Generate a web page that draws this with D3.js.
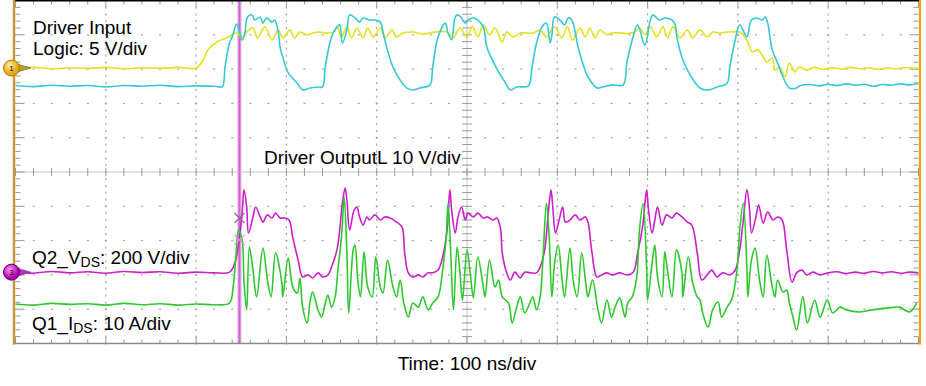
<!DOCTYPE html>
<html>
<head>
<meta charset="utf-8">
<script src="https://cdn.jsdelivr.net/npm/d3@7"></script>
<style>
  body { margin: 0; background: #fff; }
  text { font-family: "Liberation Sans", Arial, sans-serif; fill: #000; }
</style>
</head>
<body>
<div id="scope"></div>
<script>
// time in ns (100 ns/div), amplitude in screen divisions from the bottom of the graticule
const frame_width = 926;
const frame_height = 386;
const plot = {left: 15.5, right: 918.5, top: 0.5, bottom: 343.5};

// Driver Input (logic, 5 V/div)
const ch1 = [[0,8.03],[20,8.05],[40,8.01],[60,8.04],[80,8.02],[100,8.05],[120,8.01],[140,8.04],[160,8.02],[180,8.05],[200,8.03],
  [208,8.27],[213,8.56],[223,8.79],[234,8.91],[245,9.05],[251,8.91],[256,9.08],[263,9.20],[268,8.91],[276,9.23],[284,8.85],
  [291,9.14],[296,8.91],[304,9.14],[309,8.91],[315,9.08],[323,9.00],[329,9.05],[337,9.08],[345,9.05],[352,9.08],[356,9.23],
  [361,8.94],[367,9.23],[372,8.91],[378,9.20],[385,8.91],[390,9.20],[396,8.94],[404,9.20],[409,8.91],[417,9.14],[422,8.94],
  [429,9.05],[440,9.08],[451,9.02],[462,9.07],[478,9.08],[485,8.91],[492,9.20],[500,8.94],[506,9.23],[512,8.94],[518,9.29],
  [525,9.00],[531,9.20],[539,8.79],[544,9.08],[551,8.94],[559,9.05],[573,9.05],[581,9.14],[588,8.94],[597,9.23],[605,8.91],
  [611,9.23],[617,8.85],[625,9.20],[631,8.94],[636,9.20],[642,8.91],[647,9.14],[655,9.00],[661,9.05],[669,9.06],[677,9.04],
  [686,9.08],[691,9.20],[697,9.00],[703,9.23],[710,8.94],[717,9.23],[722,8.91],[728,9.23],[736,8.91],[744,9.14],[750,8.91],
  [758,9.14],[766,8.94],[772,9.08],[780,9.05],[788,9.08],[794,9.08],[802,9.08],[810,8.85],[816,8.50],[822,8.56],[828,8.35],
  [832,8.21],[838,8.32],[841,7.97],[846,8.06],[852,7.77],[857,8.18],[863,7.92],[868,8.06],[876,7.97],[885,8.05],[895,7.99],
  [905,8.04],[915,8.00],[925,8.05],[935,8.01],[945,8.04],[955,7.99],[965,8.03],[975,8.01],[985,8.04],[1000,8.02]];

// Driver OutputL (10 V/div)
const ch2 = [[0,7.52],[20,7.49],[40,7.53],[60,7.50],[80,7.52],[100,7.48],[120,7.52],[140,7.50],[160,7.53],[180,7.49],[200,7.51],
  [220,7.50],[229,7.49],[232,8.06],[237,8.76],[240,8.94],[245,9.31],[251,8.85],[254,9.05],[257,9.52],[262,9.58],[265,9.43],
  [271,9.52],[274,9.34],[278,9.49],[284,9.37],[287,9.43],[291,9.08],[293,8.64],[296,8.35],[302,7.89],[312,7.59],[318,7.39],
  [326,7.45],[334,7.48],[340,7.48],[343,8.06],[350,8.94],[356,9.23],[359,9.29],[362,8.76],[367,9.14],[370,9.58],[376,9.49],
  [381,9.37],[385,9.49],[392,9.43],[398,9.43],[404,9.37],[407,9.08],[411,8.64],[418,8.06],[426,7.68],[433,7.45],[440,7.39],
  [448,7.45],[459,7.54],[462,8.06],[468,8.94],[476,9.34],[479,9.05],[483,8.85],[487,9.52],[490,9.58],[494,9.49],[498,9.34],
  [501,9.43],[507,9.49],[512,9.43],[518,9.23],[522,8.64],[528,8.27],[535,7.92],[542,7.62],[548,7.39],[555,7.48],[568,7.51],
  [572,8.06],[577,8.76],[583,9.23],[588,9.34],[592,8.76],[594,9.00],[597,9.52],[603,9.43],[608,9.29],[612,9.49],[616,9.43],
  [623,8.64],[628,8.18],[634,7.77],[644,7.45],[650,7.48],[661,7.54],[673,7.54],[677,8.18],[683,8.85],[689,9.29],[697,8.70],
  [703,9.43],[706,9.58],[713,9.43],[719,9.49],[727,9.43],[730,9.34],[733,8.85],[739,8.27],[747,7.83],[758,7.45],[767,7.39],
  [777,7.48],[788,7.59],[791,8.06],[797,8.85],[802,9.29],[810,8.94],[815,9.43],[821,9.49],[827,9.43],[830,9.52],[833,9.34],
  [838,8.56],[844,8.18],[850,7.77],[857,7.45],[865,7.45],[868,7.51],[880,7.55],[890,7.51],[900,7.56],[910,7.52],[920,7.57],
  [930,7.53],[940,7.56],[950,7.50],[960,7.55],[970,7.53],[980,7.57],[990,7.54],[1000,7.58]];

// Q2 VDS (200 V/div)
const ch3 = [[0,2.08],[20,2.05],[40,2.10],[60,2.06],[80,2.09],[100,2.05],[120,2.10],[140,2.07],[160,2.09],[180,2.05],[200,2.08],
  [220,2.06],[237,2.08],[243,2.35],[246,2.73],[251,3.80],[253,4.48],[256,3.98],[258,3.22],[263,3.69],[266,3.98],[271,3.69],
  [274,3.54],[279,3.75],[284,3.66],[288,3.80],[293,3.66],[298,3.66],[303,3.60],[307,3.10],[313,2.43],[318,1.94],[324,2.00],
  [329,1.91],[335,2.06],[340,1.94],[346,2.00],[350,2.23],[356,2.73],[359,3.31],[362,4.09],[365,4.53],[367,4.18],[370,3.31],
  [375,3.89],[378,3.98],[381,3.69],[385,3.45],[389,3.69],[392,3.60],[398,3.75],[404,3.60],[409,3.69],[415,3.66],[422,3.54],
  [428,3.40],[431,2.64],[435,2.06],[440,1.94],[446,2.00],[451,1.94],[457,2.06],[462,2.06],[468,2.14],[473,2.52],[478,3.31],
  [481,4.48],[483,3.89],[487,3.22],[490,3.69],[494,3.98],[498,3.60],[501,3.80],[507,3.69],[512,3.80],[518,3.66],[523,3.69],
  [529,3.60],[533,3.66],[537,3.37],[539,2.64],[544,2.06],[548,1.85],[553,2.08],[559,1.91],[564,2.08],[570,2.06],[577,2.06],
  [581,2.23],[586,2.73],[590,3.80],[593,4.48],[595,3.98],[598,3.22],[602,3.60],[606,3.98],[609,3.54],[614,3.60],[620,3.75],
  [625,3.60],[631,3.69],[634,3.54],[638,2.73],[644,1.94],[649,2.00],[655,2.06],[661,2.00],[669,2.06],[677,2.00],[684,2.08],
  [689,2.64],[695,3.51],[697,4.09],[699,4.48],[701,3.89],[705,3.22],[708,3.60],[711,3.98],[716,3.45],[721,3.75],[727,3.66],
  [732,3.80],[738,3.69],[744,3.54],[749,3.45],[755,2.64],[760,1.85],[766,2.00],[771,2.14],[777,1.94],[783,2.06],[791,2.00],
  [797,2.14],[802,2.73],[806,3.60],[810,4.48],[813,3.89],[815,3.22],[820,3.69],[823,4.04],[828,3.51],[833,3.83],[839,3.60],
  [844,3.69],[849,3.60],[854,2.73],[860,1.79],[865,2.06],[871,2.14],[876,2.00],[883,2.08],[891,2.00],[900,2.06],[910,2.09],
  [920,2.04],[930,2.08],[940,2.05],[950,2.10],[960,2.06],[970,2.09],[980,2.05],[990,2.08],[1000,2.06]];

// Q1 IDS (10 A/div)
const ch4 = [[0,1.15],[20,1.12],[40,1.17],[60,1.14],[80,1.16],[100,1.12],[120,1.17],[140,1.13],[160,1.16],[180,1.12],[200,1.15],
  [220,1.13],[237,1.18],[241,1.65],[244,2.52],[247,3.31],[251,3.02],[253,1.85],[256,0.98],[259,2.81],[263,2.14],[267,1.36],
  [274,2.78],[279,1.85],[283,1.36],[288,2.64],[295,1.76],[296,1.36],[302,2.49],[307,1.65],[312,1.47],[315,1.91],[318,1.06],
  [323,0.60],[326,1.18],[329,1.50],[335,0.98],[339,0.77],[343,1.18],[346,1.41],[350,1.06],[354,1.36],[357,2.14],[361,3.10],
  [364,4.27],[367,2.64],[369,0.89],[374,2.73],[376,2.87],[379,1.85],[382,1.36],[386,2.67],[390,1.65],[395,1.36],[399,2.52],
  [404,1.65],[407,1.47],[412,2.43],[418,1.65],[422,1.36],[426,1.85],[430,1.18],[435,0.77],[440,1.18],[446,1.06],[451,1.36],
  [457,0.98],[462,1.18],[468,1.36],[473,2.14],[477,3.10],[479,4.09],[482,2.64],[485,0.98],[489,2.81],[492,2.14],[495,1.27],
  [500,2.73],[504,1.94],[507,1.33],[512,2.52],[518,1.65],[520,1.36],[525,2.43],[531,1.65],[535,1.85],[539,1.36],[546,1.18],
  [550,0.60],[555,1.06],[559,1.36],[564,0.89],[570,1.21],[573,1.36],[577,0.98],[581,1.36],[584,2.43],[588,4.09],[591,3.10],
  [594,1.36],[597,2.35],[601,2.87],[605,1.94],[608,1.36],[614,2.78],[618,1.76],[622,1.36],[627,2.64],[632,1.65],[634,1.36],
  [639,1.85],[645,0.98],[649,0.60],[655,1.27],[660,0.77],[664,1.06],[669,1.33],[675,0.77],[678,1.18],[683,1.36],[688,1.94],
  [691,3.31],[695,4.09],[699,2.14],[700,1.27],[705,2.35],[708,2.87],[711,1.94],[716,1.36],[719,2.67],[722,2.14],[727,1.36],
  [732,2.73],[738,2.06],[739,1.36],[745,2.52],[750,1.76],[755,1.36],[758,1.27],[761,0.89],[767,0.48],[772,0.98],[778,1.21],
  [782,0.77],[788,1.06],[793,1.27],[799,2.14],[802,3.31],[806,4.09],[810,2.14],[811,1.36],[815,2.43],[819,2.78],[824,1.85],
  [828,1.36],[832,2.58],[838,1.65],[841,1.36],[844,1.85],[850,1.50],[854,1.56],[857,1.18],[861,0.77],[865,0.39],[872,1.36],
  [877,0.60],[885,1.27],[891,0.77],[899,1.27],[905,0.89],[913,1.06],[920,0.98],[935,0.92],[949,0.98],[965,1.03],[979,1.06],
  [990,0.92],[998,1.18]];

const channels = [
  {name: "ch1", data: ch1, color: "#e2e21e"},
  {name: "ch2", data: ch2, color: "#35c8d8"},
  {name: "ch3", data: ch3, color: "#cc1ecc"},
  {name: "ch4", data: ch4, color: "#2ec82e"}
];

// ground markers (channel number, level in div)
const markerIds = ["1", "3"];
const markerLevels = [8.03, 2.08];

// cursor time and cursor crossing levels
const cursorTime = 248;
const crossLevels = [3.66, 3.02];

const SVG = d3.select("#scope")
  .append("svg")
    .attr("width", frame_width)
    .attr("height", frame_height);

const X_SCALE = d3.scaleLinear().domain([0, 1000]).range([plot.left, plot.right]);
const Y_SCALE = d3.scaleLinear().domain([0, 10]).range([plot.bottom, plot.top]);

const majorX = d3.range(0, 1001, 100);
const minorX = d3.range(0, 1000.1, 20);
const majorY = d3.range(0, 10.01, 1);
const minorY = d3.range(0, 10.001, 0.2);

// graticule dots
const grid = SVG.append("g");
majorX.filter(t => t > 0 && t < 1000 && t !== 500).forEach(t => {
  grid.selectAll(null).data(minorY).enter().append("rect")
    .attr("x", X_SCALE(t) - 0.6).attr("y", d => Y_SCALE(d) - 1)
    .attr("width", 1.2).attr("height", 2.2).attr("fill", "#a8a8a8");
});
majorY.filter(v => v > 0 && v < 10 && v !== 5).forEach(v => {
  grid.selectAll(null).data(minorX).enter().append("rect")
    .attr("x", d => X_SCALE(d) - 1).attr("y", Y_SCALE(v) - 0.6)
    .attr("width", 2.2).attr("height", 1.2).attr("fill", "#a8a8a8");
});

// centre cross
grid.append("line")
  .attr("x1", X_SCALE(0)).attr("x2", X_SCALE(1000))
  .attr("y1", Y_SCALE(5)).attr("y2", Y_SCALE(5))
  .attr("stroke", "#c4c4c4").attr("stroke-width", 1);
grid.append("line")
  .attr("x1", X_SCALE(500)).attr("x2", X_SCALE(500))
  .attr("y1", Y_SCALE(0)).attr("y2", Y_SCALE(10))
  .attr("stroke", "#c4c4c4").attr("stroke-width", 1);
grid.selectAll(".cx").data(minorX).enter().append("line")
  .attr("x1", d => X_SCALE(d)).attr("x2", d => X_SCALE(d))
  .attr("y1", Y_SCALE(5) - 4).attr("y2", Y_SCALE(5) + 4)
  .attr("stroke", "#999").attr("stroke-width", 1);
grid.selectAll(".cy").data(minorY).enter().append("line")
  .attr("x1", X_SCALE(500) - 5).attr("x2", X_SCALE(500) + 5)
  .attr("y1", d => Y_SCALE(d)).attr("y2", d => Y_SCALE(d))
  .attr("stroke", "#999").attr("stroke-width", 1);

// border ticks
const isMajorY = d => Math.abs(d - Math.round(d)) < 0.01;
const isMajorX = d => d % 100 === 0;
grid.selectAll(".lt").data(minorY).enter().append("line")
  .attr("x1", X_SCALE(0)).attr("x2", d => X_SCALE(0) + (isMajorY(d) ? 9 : 5))
  .attr("y1", d => Y_SCALE(d)).attr("y2", d => Y_SCALE(d))
  .attr("stroke", "#999").attr("stroke-width", 1);
grid.selectAll(".rt").data(minorY).enter().append("line")
  .attr("x1", X_SCALE(1000)).attr("x2", d => X_SCALE(1000) - (isMajorY(d) ? 9 : 5))
  .attr("y1", d => Y_SCALE(d)).attr("y2", d => Y_SCALE(d))
  .attr("stroke", "#999").attr("stroke-width", 1);
grid.selectAll(".tt").data(minorX).enter().append("line")
  .attr("x1", d => X_SCALE(d)).attr("x2", d => X_SCALE(d))
  .attr("y1", Y_SCALE(10)).attr("y2", d => Y_SCALE(10) + (isMajorX(d) ? 7 : 4))
  .attr("stroke", "#999").attr("stroke-width", 1);
grid.selectAll(".bt").data(minorX).enter().append("line")
  .attr("x1", d => X_SCALE(d)).attr("x2", d => X_SCALE(d))
  .attr("y1", Y_SCALE(0)).attr("y2", d => Y_SCALE(0) - (isMajorX(d) ? 7 : 4))
  .attr("stroke", "#999").attr("stroke-width", 1);

// cursor line
SVG.append("line")
  .attr("x1", X_SCALE(cursorTime)).attr("x2", X_SCALE(cursorTime))
  .attr("y1", Y_SCALE(10)).attr("y2", Y_SCALE(0))
  .attr("stroke", "#e4a6e4").attr("stroke-width", 4);
SVG.append("line")
  .attr("x1", X_SCALE(cursorTime)).attr("x2", X_SCALE(cursorTime))
  .attr("y1", Y_SCALE(10)).attr("y2", Y_SCALE(0))
  .attr("stroke", "#cf62cf").attr("stroke-width", 1.6);

// traces, smoothed a little like the scope's display
const line = d3.line()
  .x(d => X_SCALE(d[0]))
  .y(d => Y_SCALE(d[1]))
  .curve(d3.curveCatmullRom.alpha(0.5));

SVG.selectAll(".trace")
  .data(channels)
  .enter()
  .append("path")
    .attr("class", "trace")
    .attr("d", d => line(d.data))
    .attr("fill", "none")
    .attr("stroke", d => d.color)
    .attr("stroke-width", 1.6)
    .attr("stroke-linejoin", "round");

// cursor crossing marks
const crossColors = ["#8c6a8c", "#e48ce4"];
crossLevels.forEach((v, i) => {
  const cx = X_SCALE(cursorTime), cy = Y_SCALE(v);
  SVG.append("path")
    .attr("d", `M${cx - 5},${cy - 5}L${cx + 5},${cy + 5}M${cx - 5},${cy + 5}L${cx + 5},${cy - 5}`)
    .attr("stroke", crossColors[i]).attr("stroke-width", 1.2).attr("fill", "none");
});

// plot borders
SVG.append("line").attr("x1", 13).attr("x2", 921).attr("y1", 0.8).attr("y2", 0.8)
  .attr("stroke", "#000").attr("stroke-width", 1.6);
SVG.append("line").attr("x1", 13).attr("x2", 921).attr("y1", Y_SCALE(0)).attr("y2", Y_SCALE(0))
  .attr("stroke", "#8a8a8a").attr("stroke-width", 1.6);
SVG.append("line").attr("x1", 14).attr("x2", 14).attr("y1", 0).attr("y2", Y_SCALE(0) + 1)
  .attr("stroke", "#c8963c").attr("stroke-width", 2.5);
SVG.append("line").attr("x1", 920).attr("x2", 920).attr("y1", 0).attr("y2", Y_SCALE(0) + 1)
  .attr("stroke", "#f4a010").attr("stroke-width", 2.2);

// ground markers
const defs = SVG.append("defs");
const g1 = defs.append("radialGradient").attr("id", "m1").attr("cx", "40%").attr("cy", "35%");
g1.append("stop").attr("offset", "0%").attr("stop-color", "#fff2a0");
g1.append("stop").attr("offset", "100%").attr("stop-color", "#e8a414");
const g3 = defs.append("radialGradient").attr("id", "m3").attr("cx", "40%").attr("cy", "35%");
g3.append("stop").attr("offset", "0%").attr("stop-color", "#ff9cff");
g3.append("stop").attr("offset", "100%").attr("stop-color", "#b000b0");
const markerFill = ["url(#m1)", "url(#m3)"];
const arrowFill = ["#b8a800", "#d020d0"];

markerIds.forEach((id, i) => {
  const y = Y_SCALE(markerLevels[i]);
  SVG.append("path")
    .attr("d", `M17,${y - 4}L31,${y}L17,${y + 4}Z`)
    .attr("fill", arrowFill[i]).attr("stroke", "#555").attr("stroke-width", 0.6);
  SVG.append("circle")
    .attr("cx", 11.5).attr("cy", y).attr("r", 8)
    .attr("fill", markerFill[i]).attr("stroke", i === 0 ? "#b07808" : "#5a005a").attr("stroke-width", 1);
  SVG.append("text")
    .attr("x", 11.5).attr("y", y + 3)
    .attr("text-anchor", "middle")
    .style("font-size", "8px")
    .text(id);
});

// labels
const labelText = ["Driver Input", "Logic: 5 V/div", "Driver OutputL 10 V/div"];
SVG.append("text").attr("x", 33).attr("y", 33.5).style("font-size", "19px").text(labelText[0]);
SVG.append("text").attr("x", 33).attr("y", 55).style("font-size", "19px").text(labelText[1]);
SVG.append("text").attr("x", 264).attr("y", 164).style("font-size", "19px").text(labelText[2]);

const subLabels = [
  {pre: "Q2_V", sub: "DS", post: ": 200 V/div", y: 264},
  {pre: "Q1_I", sub: "DS", post: ": 10 A/div", y: 330}
];
subLabels.forEach(l => {
  const t = SVG.append("text").attr("x", 32).attr("y", l.y).style("font-size", "19px");
  t.append("tspan").text(l.pre);
  t.append("tspan").attr("dy", 3).style("font-size", "14px").text(l.sub);
  t.append("tspan").attr("dy", -3).text(l.post);
});

SVG.append("text")
  .attr("x", X_SCALE(500))
  .attr("y", 370)
  .attr("text-anchor", "middle")
  .style("font-size", "19px")
  .text("Time: 100 ns/div");
</script>
</body>
</html>
